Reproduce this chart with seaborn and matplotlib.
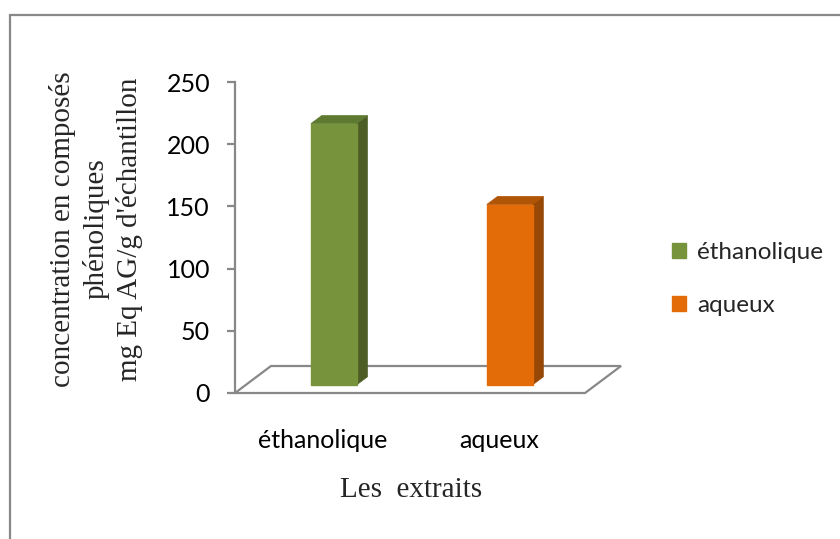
import numpy as np
import matplotlib
matplotlib.use("Agg")
import matplotlib.pyplot as plt
from matplotlib.patches import Polygon
from matplotlib.lines import Line2D
import seaborn as sns

# data
extraits = ["éthanolique", "aqueux"]
concentration = [210, 145]
front_colors = ["#77933C", "#E36C09"]
side_colors = ["#4C5E26", "#974706"]
top_colors = ["#5E7A30", "#B05405"]
y_ticks = [0, 50, 100, 150, 200, 250]

sns.set_style("white")
plt.rcParams["font.family"] = ["Lato", "DejaVu Sans"]

fig = plt.figure(figsize=(8.4, 5.39), dpi=100)
ax = fig.add_axes([235 / 840, 1 - 393 / 539, 387 / 840, 311 / 539])

# fake 3d: depth vector of the floor in data units
depth_dx, depth_dy = 0.2045, 21.7
bar_front, bar_back = 0.3, 0.6
bar_w = 0.26

sns.barplot(x=extraits, y=concentration, hue=extraits, palette=front_colors,
            width=bar_w, ax=ax, legend=False, saturation=1, zorder=3)

grey = "#888888"
# floor outline
x_lo, x_hi = -0.5, 1.49
floor = Polygon([(x_lo, 0), (x_hi, 0), (x_hi + depth_dx, depth_dy), (x_lo + depth_dx, depth_dy)],
                closed=True, facecolor="white", edgecolor=grey, lw=1.6, zorder=1, clip_on=False)
ax.add_patch(floor)

ddx = (bar_back - bar_front) * depth_dx
ddy = (bar_back - bar_front) * depth_dy
for i, p in enumerate(ax.patches[:len(extraits)]):
    p.set_x(p.get_x() + bar_front * depth_dx)
    p.set_y(bar_front * depth_dy)
    p.set_edgecolor(front_colors[i])
    x0 = p.get_x()
    x1 = x0 + p.get_width()
    y0 = p.get_y()
    y1 = y0 + p.get_height()
    side = Polygon([(x1, y0), (x1, y1), (x1 + ddx, y1 + ddy), (x1 + ddx, y0 + ddy)],
                   closed=True, facecolor=side_colors[i], edgecolor=side_colors[i], lw=0.5, zorder=2)
    top = Polygon([(x0, y1), (x1, y1), (x1 + ddx, y1 + ddy), (x0 + ddx, y1 + ddy)],
                  closed=True, facecolor=top_colors[i], edgecolor=top_colors[i], lw=0.5, zorder=2)
    ax.add_patch(side)
    ax.add_patch(top)

ax.set_xlim(-0.5, 1.70)
ax.set_ylim(0, 250)
ax.set_yticks(y_ticks)
ax.set_xlabel("")
ax.set_ylabel("")
for s in ["top", "right", "bottom"]:
    ax.spines[s].set_visible(False)
ax.spines["left"].set_color(grey)
ax.spines["left"].set_linewidth(1.6)
ax.tick_params(axis="y", direction="out", length=6, width=1.6, color=grey,
               pad=12, labelsize=18, labelcolor="black", left=True)
ax.tick_params(axis="x", length=0, pad=26, labelsize=18, labelcolor="black")

# titles in serif
fig.text(96 / 840, 1 - 229 / 539,
         "concentration en composés\nphénoliques\nmg Eq AG/g d'échantillon",
         rotation=90, ha="center", va="center", multialignment="center",
         family="Liberation Serif", fontsize=21, linespacing=1.3)
fig.text(411 / 840, 1 - 490 / 539, "Les  extraits", ha="center", va="center",
         family="Liberation Serif", fontsize=21)

# legend
handles = [plt.Rectangle((0, 0), 1, 1, color=c) for c in front_colors]
fig.legend(handles, extraits, loc="center left", bbox_to_anchor=(650 / 840, 1 - 279 / 539),
           frameon=False, fontsize=17.5, handlelength=0.6, handleheight=0.6,
           handletextpad=0.45, labelspacing=1.3)

# chart area border
fig.add_artist(Line2D([10 / 840, 10 / 840], [0, 1 - 15 / 539], color=grey, lw=1.6))
fig.add_artist(Line2D([10 / 840, 1], [1 - 15 / 539, 1 - 15 / 539], color=grey, lw=1.6))

fig.savefig("out.png", dpi=100)
